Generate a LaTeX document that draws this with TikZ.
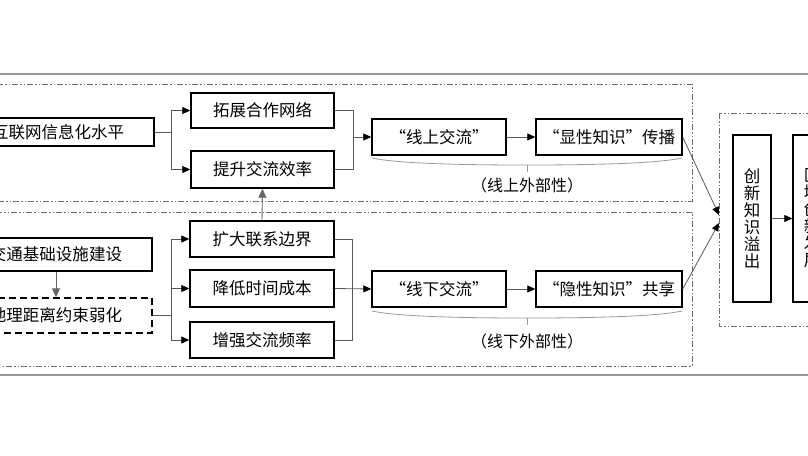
\documentclass[tikz,border=0pt]{standalone}
\usepackage{fontspec}
\setmainfont{Noto Sans CJK SC}
\usetikzlibrary{arrows.meta}
\begin{document}
\begin{tikzpicture}[x=1pt,y=-1pt,
  box/.style={draw=black, line width=1.4pt, minimum height=36pt, inner sep=0pt,
    font=\fontsize{16.5}{18}\selectfont},
  dbox/.style={box, dash pattern=on 7pt off 4pt},
  vbox/.style={box, align=center, minimum width=38pt, minimum height=167pt,
    font=\fontsize{16.5}{17}\selectfont},
  region/.style={draw=gray!85!black, line width=0.9pt,
    dash pattern=on 6pt off 2pt on 1.5pt off 2pt on 1.5pt off 2pt},
  frame/.style={draw=gray!80, line width=1.6pt},
  conn/.style={draw=black!65, line width=0.8pt},
  arrowc/.style={conn, -{Triangle[length=8pt,width=7pt,color=black]}},
  garrow/.style={draw=black!60, line width=0.9pt, -{Triangle[length=9pt,width=8pt]}},
  brace/.style={draw=gray!80, line width=0.8pt},
  lbl/.style={inner sep=0pt, font=\fontsize{16}{18}\selectfont}
]
\useasboundingbox (0,0) rectangle (808,455);
\clip (0,0) rectangle (808,455);

% frame and regions
\draw[frame] (-30,74) rectangle (850,375);
\draw[region] (-20,84) rectangle (692,201);
\draw[region] (-20,212) rectangle (692,366);
\draw[region] (719,113) rectangle (860,326);

% left column
\node[box, minimum width=192pt, minimum height=28pt] (net) at (58,132) {互联网信息化水平};
\node[box, minimum width=192pt, minimum height=33pt] (jt) at (56,254.5) {交通基础设施建设};
\node[dbox, minimum width=192pt, minimum height=35pt] (dl) at (56,315.5) {地理距离约束弱化};

% middle column
\node[box, minimum width=143pt, minimum height=35pt] (tz) at (262.5,110.5) {拓展合作网络};
\node[box, minimum width=143pt, minimum height=37pt] (ts) at (262.5,169.5) {提升交流效率};
\node[box, minimum width=144pt] (kd) at (262,239) {扩大联系边界};
\node[box, minimum width=144pt, minimum height=37pt] (jd) at (262,288.5) {降低时间成本};
\node[box, minimum width=144pt] (zq) at (262,340) {增强交流频率};

% exchange boxes
\node[box, minimum width=134pt] (xs) at (439,137) {“线上交流”};
\node[box, minimum width=146pt] (xx) at (609,137) {“显性知识”传播};
\node[box, minimum width=134pt] (xia) at (439,289) {“线下交流”};
\node[box, minimum width=146pt] (yx) at (609,289) {“隐性知识”共享};

% right boxes
\node[vbox] (cx) at (752,218.5) {创\\新\\知\\识\\溢\\出};
\node[vbox] (qy) at (812,218.5) {区\\域\\创\\新\\发\\展};

% coordinates
\coordinate (b1) at (171,132);
\coordinate (m1) at (353,137);
\coordinate (b2) at (171,315.5);
\coordinate (m2) at (352,289);
\coordinate (r1) at (719,215);
\coordinate (r2) at (719,223);

% upper connectors
\draw[conn] (net.east) -- (b1);
\draw[arrowc] (b1) |- (tz.west);
\draw[arrowc] (b1) |- (ts.west);
\draw[conn] (tz.east) -| (m1);
\draw[conn] (ts.east) -| (m1);
\draw[arrowc] (m1) -- (xs.west);
\draw[arrowc] (xs.east) -- (xx.west);

% lower connectors
\draw[garrow] (jt.south) -- (dl.north);
\draw[conn] (dl.east) -- (b2);
\draw[arrowc] (b2) |- (kd.west);
\draw[arrowc] (b2) |- (jd.west);
\draw[arrowc] (b2) |- (zq.west);
\draw[conn] (kd.east) -| (m2);
\draw[conn] (zq.east) -| (m2);
\draw[arrowc] (jd.east) -- (xia.west);
\draw[arrowc] (xia.east) -- (yx.west);
\draw[garrow] (kd.north) -- (ts.south);

% to right
\draw[arrowc] (xx.east) -- (r1);
\draw[arrowc] (yx.east) -- (r2);
\draw[arrowc] (cx.east) -- (qy.west);

% braces
\coordinate (u0) at (372,158);
\coordinate (um) at (527,165);
\coordinate (u1) at (682,158);
\coordinate (ut) at (527,172);
\draw[brace] (u0) .. controls (400,164) and (470,165) .. (um)
             .. controls (584,165) and (654,164) .. (u1);
\draw[brace] (um) -- (ut);
\node[lbl] (ul) at (527,185) {（线上外部性）};

\coordinate (l0) at (372,311);
\coordinate (lm) at (527,318);
\coordinate (l1) at (682,311);
\coordinate (lt) at (527,325);
\draw[brace] (l0) .. controls (400,317) and (470,318) .. (lm)
             .. controls (584,318) and (654,317) .. (l1);
\draw[brace] (lm) -- (lt);
\node[lbl] (ll) at (527,341) {（线下外部性）};
\end{tikzpicture}
\end{document}
